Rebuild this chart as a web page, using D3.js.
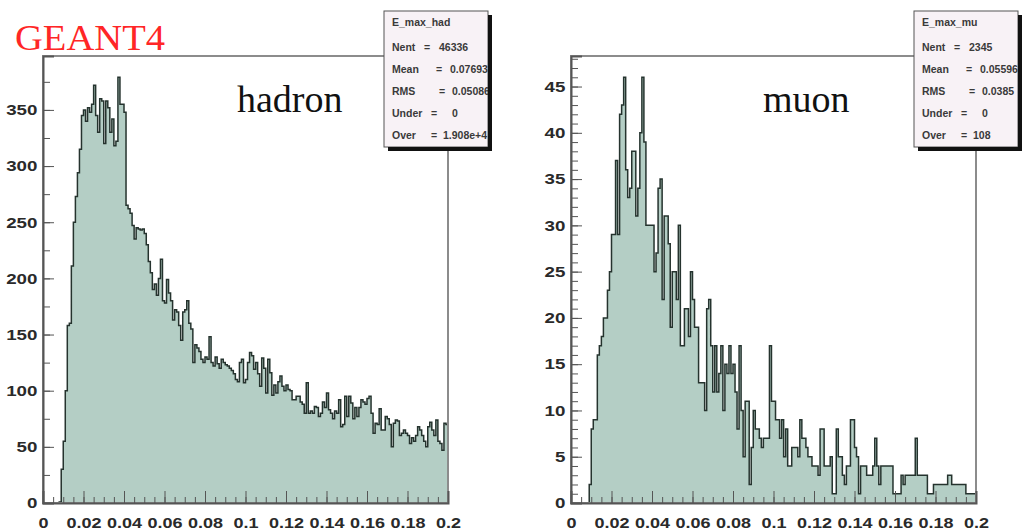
<!DOCTYPE html>
<html>
<head>
<meta charset="utf-8">
<script src="https://cdn.jsdelivr.net/npm/d3@7"></script>
<style>
  body { margin: 0; background: #fff; }
  svg { display: block; }
  .tick text { font-family: "Liberation Sans", Arial, sans-serif; font-size: 15px; fill: #2a2a2a; font-weight: bold; }
  .stats text { font-family: "Liberation Sans", Arial, sans-serif; font-size: 10.5px; fill: #3a3a3a; font-weight: bold; }
</style>
</head>
<body>
<svg id="chart" width="1036" height="530"></svg>
<script>
// bin contents, 200 bins from 0 to 0.2
const hadronCounts = [
  0, 0, 0, 0, 0, 0, 0, 0, 1, 30,
  55, 100, 158, 160, 211, 250, 273, 294, 315, 345,
  350, 340, 352, 348, 355, 372, 345, 330, 360, 358,
  320, 358, 352, 330, 342, 318, 322, 379, 355, 355,
  348, 265, 262, 258, 247, 235, 245, 244, 243, 244,
  240, 230, 215, 205, 190, 195, 185, 200, 217, 180,
  178, 199, 187, 180, 163, 172, 170, 158, 145, 170,
  172, 180, 160, 155, 125, 141, 138, 135, 128, 125,
  130, 128, 148, 125, 122, 130, 124, 120, 128, 125,
  123, 122, 120, 118, 115, 110, 108, 125, 128, 107,
  110, 125, 134, 131, 119, 125, 115, 104, 129, 120,
  98, 128, 116, 96, 105, 98, 108, 113, 104, 100,
  105, 101, 100, 92, 92, 95, 95, 90, 88, 80,
  107, 80, 82, 80, 86, 85, 77, 80, 90, 85,
  98, 83, 80, 75, 82, 80, 92, 68, 70, 95,
  77, 95, 89, 75, 85, 77, 85, 92, 90, 88,
  93, 95, 80, 62, 71, 70, 84, 65, 65, 77,
  75, 70, 50, 71, 74, 73, 60, 62, 65, 62,
  60, 53, 58, 55, 60, 68, 65, 60, 55, 50,
  68, 72, 65, 60, 74, 55, 53, 47, 71, 70
];
const muonCounts = [
  0, 0, 0, 0, 0, 0, 0, 0, 0, 2,
  8, 9, 9, 16, 17, 18, 20, 20, 23, 25,
  29, 29, 37, 29, 42, 43, 46, 36, 33, 34,
  38, 38, 31, 34, 40, 46, 39, 30, 30, 30,
  30, 25, 27, 34, 35, 22, 31, 31, 28, 19,
  25, 25, 22, 30, 17, 17, 21, 21, 18, 25,
  22, 19, 19, 13, 13, 13, 10, 21, 22, 17,
  12, 17, 12, 14, 17, 10, 15, 14, 17, 14,
  15, 12, 8, 17, 10, 5, 11, 11, 2, 6,
  10, 8, 8, 7, 6, 7, 7, 7, 17, 11,
  11, 9, 9, 7, 9, 5, 8, 4, 4, 6,
  6, 6, 5, 9, 7, 7, 6, 5, 5, 4,
  4, 4, 3, 8, 8, 4, 4, 4, 5, 1,
  1, 8, 5, 5, 3, 2, 4, 4, 9, 9,
  6, 5, 1, 4, 4, 4, 3, 3, 3, 4,
  7, 4, 2, 4, 4, 4, 4, 4, 4, 1,
  1, 1, 1, 3, 2, 3, 3, 3, 3, 3,
  7, 3, 3, 3, 3, 3, 1, 1, 1, 2,
  2, 2, 2, 2, 2, 2, 3, 3, 2, 2,
  2, 2, 2, 2, 2, 1, 1, 1, 1, 1
];

const xTickValues = [0, 0.02, 0.04, 0.06, 0.08, 0.1, 0.12, 0.14, 0.16, 0.18, 0.2];
const hadronYTicks = [0, 50, 100, 150, 200, 250, 300, 350];
const muonYTicks = [0, 5, 10, 15, 20, 25, 30, 35, 40, 45];

const hadronStats = ["E_max_had", ["Nent", "46336"], ["Mean", "0.07693"], ["RMS", "0.05086"], ["Under", "0"], ["Over", "1.908e+4"]];
const muonStats = ["E_max_mu", ["Nent", "2345"], ["Mean", "0.05596"], ["RMS", "0.0385"], ["Under", "0"], ["Over", "108"]];

const svg = d3.select("#chart");

svg.append("text")
  .attr("x", 15).attr("y", 50)
  .attr("textLength", 150).attr("lengthAdjust", "spacingAndGlyphs")
  .style("font-family", "'Liberation Serif', 'Times New Roman', serif")
  .style("font-size", "35px").style("fill", "#ff2626")
  .text("GEANT4");

// where "=" and the value sit in each stats row, from the box's left edge
const eqOff = [40, 52, 55, 47, 47];
const valOff = [55, 66, 68, 68, 59];

function drawPanel(o) {
  const x = d3.scaleLinear().domain([0, 0.2]).range([o.left, o.right]);
  const y = d3.scaleLinear().domain([0, o.ymax]).range([503, 56]);
  const g = svg.append("g");
  const bw = 0.2 / o.counts.length;
  const pts = o.counts.map((c, i) => [i * bw, c]);
  pts.push([0.2, o.counts[o.counts.length - 1]]);

  g.append("path")
    .datum(pts)
    .attr("fill", "#b4cec5")
    .attr("d", d3.area().curve(d3.curveStepAfter).x(d => x(d[0])).y0(y(0)).y1(d => y(d[1])));
  g.append("path")
    .datum(pts)
    .attr("fill", "none").attr("stroke", "#25332e").attr("stroke-width", 1.5)
    .attr("d", d3.line().curve(d3.curveStepAfter).x(d => x(d[0])).y(d => y(d[1])));

  // frame
  g.append("rect")
    .attr("x", o.left).attr("y", 56)
    .attr("width", o.right - o.left).attr("height", 503 - 56)
    .attr("fill", "none").attr("stroke", "#8c8c8c").attr("stroke-width", 2);

  // minor ticks
  g.append("g").attr("transform", `translate(0,503)`)
    .call(d3.axisBottom(x).tickValues(d3.range(0, 41).map(i => i * 0.005)).tickSize(-6).tickFormat(""))
    .call(a => a.select(".domain").remove())
    .call(a => a.selectAll("line").attr("stroke", "#555"));
  g.append("g").attr("transform", `translate(${o.left},0)`)
    .call(d3.axisLeft(y).tickValues(o.minor).tickSize(-7).tickFormat(""))
    .call(a => a.select(".domain").remove())
    .call(a => a.selectAll("line").attr("stroke", "#555"));

  // major ticks + labels
  const xa = g.append("g").attr("transform", `translate(0,503)`)
    .call(d3.axisBottom(x).tickValues(xTickValues).tickSize(-12).tickPadding(14)
      .tickFormat(d => String(+d.toFixed(2))));
  xa.select(".domain").attr("stroke", "#555").attr("stroke-width", 2);
  xa.selectAll("line").attr("stroke", "#555");
  xa.selectAll("text").attr("transform", "scale(1.2,1)");

  const ya = g.append("g").attr("transform", `translate(${o.left},0)`)
    .call(d3.axisLeft(y).tickValues(o.major).tickSize(-11).tickPadding(5));
  ya.select(".domain").attr("stroke", "#555").attr("stroke-width", 2);
  ya.selectAll("line").attr("stroke", "#555");
  ya.selectAll("text").attr("transform", "scale(1.25,1)").attr("x", -4.5);

  g.append("text")
    .attr("x", o.nameX).attr("y", 112)
    .style("font-family", "'Liberation Serif', 'Times New Roman', serif")
    .style("font-size", "38px").style("fill", "#111")
    .text(o.name);

  // stats box
  const bx = o.boxX, by = 11, bwid = 104, bh = 136;
  const s = g.append("g").attr("class", "stats");
  s.append("rect").attr("x", bx).attr("y", by).attr("width", bwid).attr("height", bh)
    .attr("fill", "#f8f2f6").attr("stroke", "#555").attr("stroke-width", 1);
  s.append("text").attr("x", bx + 8).attr("y", by + 15).text(o.stats[0]);
  o.stats.slice(1).forEach((r, i) => {
    const ty = by + 40 + i * 22;
    s.append("text").attr("x", bx + 8).attr("y", ty).text(r[0]);
    s.append("text").attr("x", bx + eqOff[i]).attr("y", ty).text("=");
    s.append("text").attr("x", bx + valOff[i]).attr("y", ty).text(r[1]);
  });
  s.append("rect").attr("x", bx + bwid).attr("y", by + 4).attr("width", 4).attr("height", bh).attr("fill", "#111");
  s.append("rect").attr("x", bx + 4).attr("y", by + bh).attr("width", bwid).attr("height", 4).attr("fill", "#111");
}

drawPanel({ counts: hadronCounts, left: 43, right: 448, ymax: 398, major: hadronYTicks,
  minor: d3.range(0, 16).map(i => i * 25), name: "hadron", nameX: 237, boxX: 384, stats: hadronStats });
drawPanel({ counts: muonCounts, left: 571, right: 976, ymax: 48.3, major: muonYTicks,
  minor: d3.range(0, 49), name: "muon", nameX: 763, boxX: 914, stats: muonStats });
</script>
</body>
</html>
